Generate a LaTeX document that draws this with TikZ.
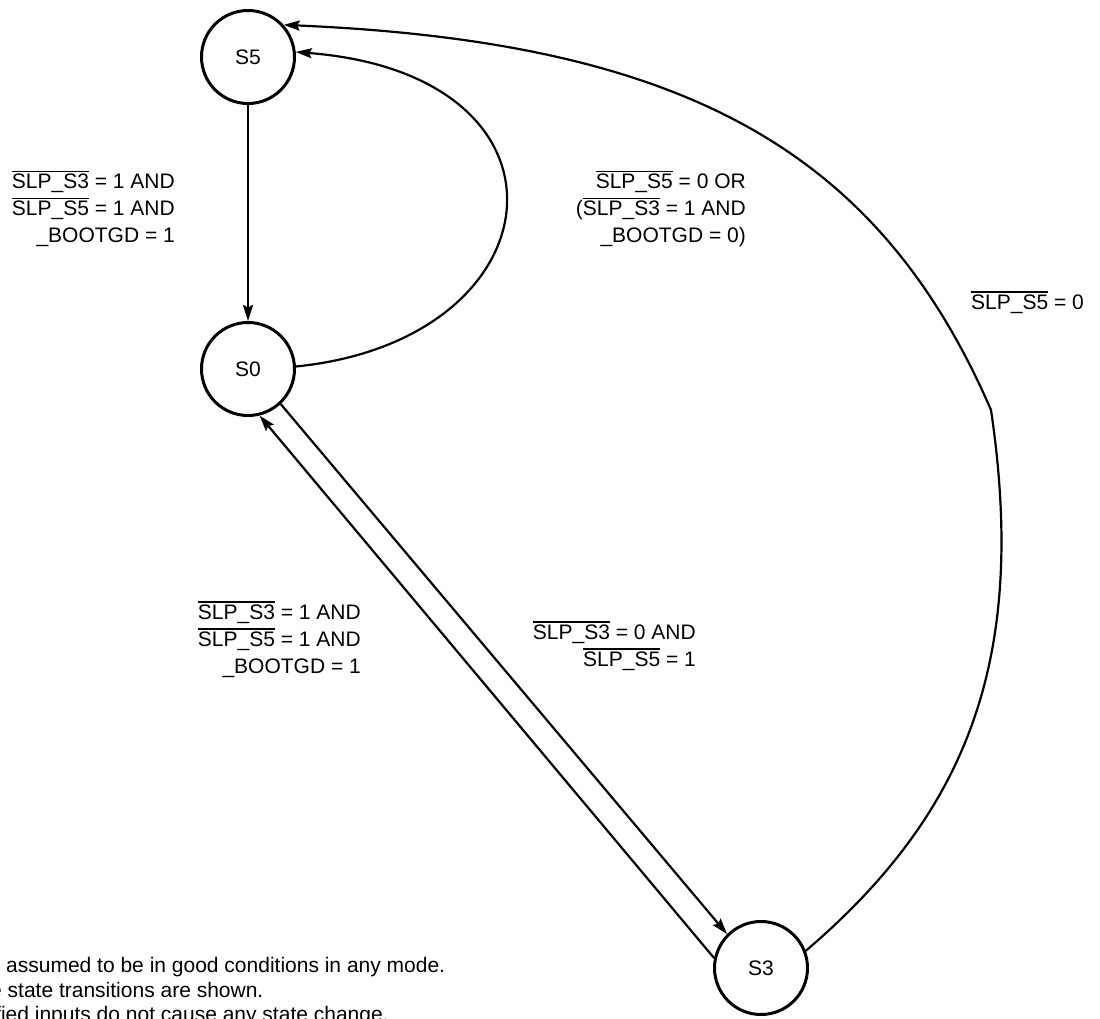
\documentclass[tikz,border=0pt]{standalone}
\usepackage{fontspec}
\setmainfont{Liberation Sans}
\usetikzlibrary{arrows.meta}
\newcommand\ovl[1]{{\setbox0\hbox{#1}\rlap{\smash{\raisebox{\dimexpr\ht0+1.8pt\relax}{\rule{\wd0}{1.3pt}}}}\box0}}
\tikzset{
  state/.style={circle, draw, line width=3pt, minimum size=93pt, inner sep=0pt, font=\fontsize{21}{25}\selectfont},
  conn/.style={line width=2.2pt, -{Stealth[length=16pt,width=10pt,inset=2.5pt]}},
  lbl/.style={font=\fontsize{21}{27}\selectfont, inner sep=0pt, align=right},
  note/.style={font=\fontsize{21}{25}\selectfont, inner sep=0pt}
}
\begin{document}
\begin{tikzpicture}[x=1pt,y=-1pt]
\useasboundingbox (0,0) rectangle (1100,1019);
\clip (0,0) rectangle (1100,1019);
\node[state] (S5) at (248,57) {S5};
\node[state] (S0) at (248,369) {S0};
\node[state] (S3) at (761,968) {S3};
\coordinate (kink) at (991,410);

\draw[conn, line width=2.6pt] (S5) -- (S0);
\draw[conn] (S0.3) .. controls (560,340) and (590,75) .. (S5.6);
\draw[conn] (S3.21) .. controls (967,813) and (1028,660) .. (kink) .. controls (879,152) and (687,42) .. (S5.42);
\draw[conn] (S0.-47.5) -- (S3.135);
\draw[conn] (S3.168) -- (S0.-76);

\node[lbl, anchor=east] (la) at (175,210.5) {\ovl{SLP\_S3} = 1 AND\\\ovl{SLP\_S5} = 1 AND\\\_BOOTGD = 1};
\node[lbl, anchor=east] (lb) at (746,210.7) {\ovl{SLP\_S5} = 0 OR\\(\ovl{SLP\_S3} = 1 AND\\\_BOOTGD = 0)};
\node[lbl, anchor=east] (lc) at (1084,304) {\ovl{SLP\_S5} = 0};
\node[lbl, anchor=east] (ld) at (361,641) {\ovl{SLP\_S3} = 1 AND\\\ovl{SLP\_S5} = 1 AND\\\_BOOTGD = 1};
\node[lbl, anchor=east] (le) at (696,647.3) {\ovl{SLP\_S3} = 0 AND\\\ovl{SLP\_S5} = 1};

\node[note, anchor=base west] (n1) at (6,972) {assumed to be in good conditions in any mode.};
\node[note, anchor=base west] (n2) at (-10,997) {e state transitions are shown.};
\node[note, anchor=base west] (n3) at (-5,1021) {fied inputs do not cause any state change.};
\end{tikzpicture}
\end{document}
